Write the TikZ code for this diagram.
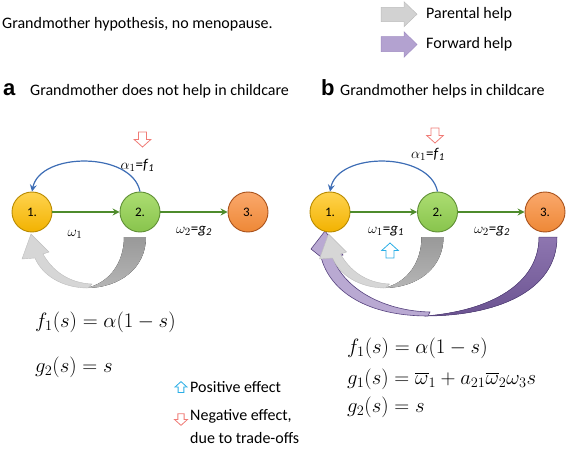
\documentclass[tikz,border=0pt]{standalone}
\usepackage{fontspec}
\setmainfont{Carlito}
\newfontfamily\arialfont{Liberation Sans}
\usetikzlibrary{arrows.meta}

\definecolor{goldtop}{HTML}{FFD34F}
\definecolor{goldbot}{HTML}{F2B200}
\definecolor{goldline}{HTML}{B88A00}
\definecolor{greentop}{HTML}{ACDD72}
\definecolor{greenbot}{HTML}{88C44C}
\definecolor{greenline}{HTML}{5F8F35}
\definecolor{orangetop}{HTML}{FAA86C}
\definecolor{orangebot}{HTML}{EE8836}
\definecolor{orangeline}{HTML}{A9521C}
\definecolor{flowgreen}{HTML}{4E8B2C}
\definecolor{arcblue}{HTML}{3D6DB5}
\definecolor{negred}{HTML}{F07B76}
\definecolor{poscyan}{HTML}{2AAEE6}
\definecolor{gbandtop}{HTML}{999999}
\definecolor{gbandbot}{HTML}{B5B5B5}
\definecolor{glight}{HTML}{D6D6D6}
\definecolor{gedge}{HTML}{BDBDBD}
\definecolor{pdarktop}{HTML}{8E76B0}
\definecolor{pdarkbot}{HTML}{6B5391}
\definecolor{pedge}{HTML}{56427E}
\definecolor{plight}{HTML}{B9A9D2}
\definecolor{legpurple}{HTML}{B3A2D0}
\definecolor{legpurpleedge}{HTML}{A08CC2}
\definecolor{leggray}{HTML}{D2D2D2}

\begin{document}
\begin{tikzpicture}[x=1pt,y=-1pt,
  state/.style={circle, minimum size=40pt, inner sep=0pt, line width=0.9pt,
    font=\fontsize{13}{15}\selectfont},
  goldstate/.style={state, top color=goldtop, bottom color=goldbot, draw=goldline},
  greenstate/.style={state, top color=greentop, bottom color=greenbot, draw=greenline},
  orangestate/.style={state, top color=orangetop, bottom color=orangebot, draw=orangeline},
  flow/.style={draw=flowgreen, line width=1.1pt, -{Stealth[length=7pt,width=7pt,inset=2.5pt]}},
  backarc/.style={draw=arcblue, line width=1.2pt, -{Stealth[length=7pt,width=7pt,inset=2.5pt]}},
  lbl/.style={font=\fontsize{15}{17}\selectfont, inner sep=0pt},
  txt/.style={font=\fontsize{16}{19}\selectfont, inner sep=0pt, anchor=base west},
  panel/.style={font=\arialfont\bfseries\fontsize{22}{24}\selectfont, inner sep=0pt, anchor=base west},
  eqsmall/.style={font=\fontsize{20}{22}\selectfont, inner sep=0pt, anchor=base west},
  eqbig/.style={font=\fontsize{22}{24}\selectfont, inner sep=0pt, anchor=base west},
  hdown/.pic={\path[pic actions] (-4,-7.5) -- (4,-7.5) -- (4,0) -- (8.3,0) -- (0,7.5) -- (-8.3,0) -- (-4,0) -- cycle;},
  hup/.pic={\path[pic actions] (-4,7.5) -- (4,7.5) -- (4,0) -- (8.3,0) -- (0,-7.5) -- (-8.3,0) -- (-4,0) -- cycle;},
  grayloop/.pic={
    \fill[top color=gbandtop, bottom color=gbandbot]
      (124,237) -- (146,237) .. controls (146,268) and (120,288) .. (86,288)
      .. controls (110,283) and (124,262) .. (124,237) -- cycle;
    \path[fill=glight, draw=gedge, line width=0.4pt]
      (88,288) .. controls (62,288) and (42,275) .. (35,258) -- (22,259) -- (31,234)
      -- (49,252) -- (43,254) .. controls (52,270) and (68,283) .. (92,284) -- cycle;
  }
]
\useasboundingbox (0,0) rectangle (567,449);

% title and legend
\node[txt] (title) at (2,29) {Grandmother hypothesis, no menopause.};
\path[fill=leggray, draw=gedge, line width=0.5pt]
  (381,7.3) -- (404,7.3) -- (404,1.7) -- (417,14.2) -- (404,26.7) -- (404,21.7) -- (381,21.7) -- cycle;
\node[txt] (lpar) at (426,18.5) {Parental help};
\path[fill=legpurple, draw=legpurpleedge, line width=0.5pt]
  (381,36.7) -- (404,36.7) -- (404,31.7) -- (417,44.5) -- (404,57.3) -- (404,51.7) -- (381,51.7) -- cycle;
\node[txt] (lfwd) at (426,48.5) {Forward help};

% panel headings
\node[panel] (pa) at (3,96) {a};
\node[txt] (ta) at (30,96) {Grandmother does not help in childcare};
\node[panel] (pb) at (321,96) {b};
\node[txt] (tb) at (340,96) {Grandmother helps in childcare};

% fat help arrows
\fill[top color=pdarktop, bottom color=pdarkbot, draw=pedge, line width=0.5pt]
  (539,237) -- (557,237) .. controls (557,292) and (495,316) .. (425,316)
  .. controls (490,311) and (539,284) .. (539,237) -- cycle;
\path[fill=plight, draw=pedge, line width=0.6pt]
  (428,316) .. controls (368,316) and (330,292) .. (321,257) -- (311,249) -- (325,231)
  -- (343,255) -- (333,258) .. controls (345,290) and (385,311) .. (430,312) -- cycle;
\pic at (0,0) {grayloop};
\pic at (297.5,0) {grayloop};

% panel a
\node[goldstate] (a1) at (32,212) {1.};
\node[greenstate] (a2) at (140,212) {2.};
\node[orangestate] (a3) at (248,212) {3.};
\draw[flow] (a1) -- (a2);
\draw[flow] (a2) -- (a3);
\draw[backarc] (a2.north) .. controls +(-8,-40) and +(8,-40) .. (a1.north);
\node[lbl] (alpa) at (137.5,165) {$\alpha_1$=\textit{f}\textsubscript{\textit{1}}};
\node[lbl] (wa1) at (75,234) {$\omega_1$};
\node[lbl] (wa2) at (194,231) {$\omega_2$=\textit{g}\textsubscript{\textit{2}}};
\pic[draw=negred, fill=white, line width=0.8pt] at (142.5,139.5) {hdown};

% panel b
\node[goldstate] (b1) at (330,212) {1.};
\node[greenstate] (b2) at (437.5,212) {2.};
\node[orangestate] (b3) at (545,212) {3.};
\draw[flow] (b1) -- (b2);
\draw[flow] (b2) -- (b3);
\draw[backarc] (b2.north) .. controls +(-8,-40) and +(8,-40) .. (b1.north);
\node[lbl] (alpb) at (428,154) {$\alpha_1$=\textit{f}\textsubscript{\textit{1}}};
\node[lbl] (wb1) at (386,231) {$\omega_1$=\textit{g}\textsubscript{\textit{1}}};
\node[lbl] (wb2) at (492,231) {$\omega_2$=\textit{g}\textsubscript{\textit{2}}};
\pic[draw=negred, fill=white, line width=0.8pt] at (435,135.5) {hdown};
\pic[draw=poscyan, fill=white, line width=0.8pt] at (390,250.5) {hup};

% equations
\node[eqsmall] (fa) at (35,327) {$f_1(s)=\alpha(1-s)$};
\node[eqbig] (ga) at (35,372) {$g_2(s) = s$};
\node[eqsmall] (fb) at (347,353) {$f_1(s)=\alpha(1-s)$};
\node[eqbig] (gb1) at (347,384) {$g_1(s) = \overline{\omega}_1 + a_{21}\overline{\omega}_2\omega_3 s$};
\node[eqbig] (gb2) at (347,412) {$g_2(s) = s$};

% effect legend
\pic[draw=poscyan, fill=white, line width=0.8pt, scale=0.72] at (181,387) {hup};
\node[txt] (lpos) at (190,392.7) {Positive effect};
\pic[draw=negred, fill=white, line width=0.8pt, scale=0.78] at (181,419.5) {hdown};
\node[txt] (lneg1) at (190,420.7) {Negative effect,};
\node[txt] (lneg2) at (190,443) {due to trade-offs};
\end{tikzpicture}
\end{document}
